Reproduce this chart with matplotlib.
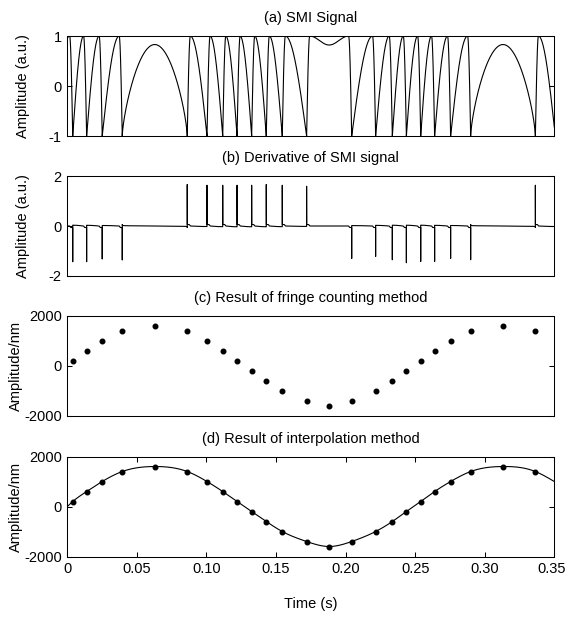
import numpy as np
import matplotlib
matplotlib.use("Agg")
import matplotlib.pyplot as plt
from matplotlib.transforms import ScaledTranslation

plt.rcParams["font.family"] = ["Liberation Sans", "DejaVu Sans"]
plt.rcParams["axes.unicode_minus"] = False

# ---------------------------
# Data
# ---------------------------
# instants of the fringe jumps (s) and the peak of the derivative at each one
fringe_times = [0.0039, 0.0139, 0.0251, 0.0395,
                0.0862, 0.1004, 0.1117, 0.1220, 0.1325, 0.1430, 0.1545, 0.1720,
                0.2044, 0.2216, 0.2336, 0.2437, 0.2540, 0.2640, 0.2755, 0.2899,
                0.3364]
spike_heights = [-1.43, -1.43, -1.32, -1.36,
                 1.66, 1.63, 1.63, 1.63, 1.63, 1.66, 1.63, 1.59,
                 -1.30, -1.22, -1.35, -1.47, -1.42, -1.42, -1.30, -1.35,
                 1.63]
# turning points of the target motion and the SMI level reached there
turn_times = [0.0630, 0.1880, 0.3130]
turn_levels = [0.83, 0.82, 0.83]
# fringes that start before / end after the plotted window
edge_times = [-0.0106, 0.3507]

# fringe counting result (nm), one value per jump / turning point
count_values = [200, 600, 1000, 1400, 1600, 1400, 1000, 600, 200, -200,
                -600, -1000, -1400, -1600, -1400, -1000, -600, -200, 200,
                600, 1000, 1400, 1600, 1400]
# interpolated curve at both ends of the window
curve_ends = [0, 1000]

xtick_vals = [0, 0.05, 0.10, 0.15, 0.20, 0.25, 0.30, 0.35]
xtick_labels = ["0", "0.05", "0.10", "0.15", "0.20", "0.25", "0.30", "0.35"]

T_END = 0.35
FAST = 0.0022  # duration of the steep edge of a fringe


def natural_spline(x, y, xs):
    x = np.asarray(x, float)
    y = np.asarray(y, float)
    n = len(x)
    h = np.diff(x)
    A = np.zeros((n, n))
    r = np.zeros(n)
    A[0, 0] = A[-1, -1] = 1
    for i in range(1, n - 1):
        A[i, i - 1] = h[i - 1]
        A[i, i] = 2 * (h[i - 1] + h[i])
        A[i, i + 1] = h[i]
        r[i] = 3 * ((y[i + 1] - y[i]) / h[i] - (y[i] - y[i - 1]) / h[i - 1])
    c = np.linalg.solve(A, r)
    b = (y[1:] - y[:-1]) / h - h * (2 * c[:-1] + c[1:]) / 3
    d = (c[1:] - c[:-1]) / (3 * h)
    k = np.clip(np.searchsorted(x, xs) - 1, 0, n - 2)
    dx = xs - x[k]
    return y[k] + b[k] * dx + c[k] * dx ** 2 + d[k] * dx ** 3


def up_fringe(tau, T):
    slow = T - FAST
    rise = -1 + 2 * np.sin(np.pi / 2 * np.clip(tau / slow, 0, 1))
    fall = -1 + 2 * np.cos(np.pi / 2 * np.clip((tau - slow) / FAST, 0, 1))
    return np.where(tau < slow, rise, fall)


# ---------------------------
# SMI signal built fringe by fringe
# ---------------------------
t = np.linspace(0, T_END, 35001)
edges = [edge_times[0]] + fringe_times + [edge_times[1]]
signs = [-1] + [np.sign(h) for h in spike_heights] + [1]
sig = np.zeros_like(t)
turn_i = 0
for k in range(len(edges) - 1):
    t0, t1 = edges[k], edges[k + 1]
    T = t1 - t0
    m = (t >= t0) & (t <= t1)
    tau = t[m] - t0
    s0, s1 = signs[k], signs[k + 1]
    if s0 < 0 and s1 < 0:
        s = up_fringe(tau, T)
    elif s0 > 0 and s1 > 0:
        s = up_fringe(T - tau, T)
    elif s0 < 0 and s1 > 0:
        p = turn_levels[turn_i]
        turn_i += 1
        s = -1 + (1 + p) * np.clip(np.sin(np.pi * tau / T), 0, 1) ** 0.7
    else:
        p = turn_levels[turn_i]
        turn_i += 1
        mid = 1 - (1 - p) * np.sin(np.pi * np.clip((tau - FAST) / (T - 2 * FAST), 0, 1)) ** 2
        s = np.where(tau < FAST, -1 + 2 * np.sin(np.pi / 2 * tau / FAST), mid)
        s = np.where(tau > T - FAST,
                     -1 + 2 * np.cos(np.pi / 2 * (tau - (T - FAST)) / FAST), s)
    sig[m] = s

# derivative: small slope between jumps plus a spike at every jump
deriv = np.clip(np.gradient(sig, t) * 8e-5, -0.06, 0.06)
for ft, h in zip(fringe_times, spike_heights):
    deriv[np.argmin(np.abs(t - ft))] = h

count_times = sorted(fringe_times + turn_times)
knots_t = [0] + count_times + [T_END]
knots_v = [curve_ends[0]] + count_values + [curve_ends[1]]
t_fine = np.linspace(0, T_END, 2000)
curve = natural_spline(knots_t, knots_v, t_fine)

# ---------------------------
# Figure
# ---------------------------
fig = plt.figure(figsize=(5.66, 6.18), dpi=100)
left, width, height = 0.1189, 0.8604, 0.1618
bottoms = [0.7799, 0.5534, 0.3269, 0.0995]
axes = [fig.add_axes([left, b, width, height]) for b in bottoms]

FS = 10.5
LW = 0.8
TPAD = 10

ax = axes[0]
ax.plot(t, sig, color="k", lw=LW)
ax.set_ylim(-1, 1)
ax.set_yticks([-1, 0, 1])
ax.set_title("(a) SMI Signal", fontsize=FS, pad=TPAD)
ax.set_ylabel("Amplitude (a.u.)", fontsize=FS)

ax = axes[1]
ax.plot(t, deriv, color="k", lw=LW)
ax.set_ylim(-2, 2)
ax.set_yticks([-2, 0, 2])
ax.set_title("(b) Derivative of SMI signal", fontsize=FS, pad=TPAD)
ax.set_ylabel("Amplitude (a.u.)", fontsize=FS)

ax = axes[2]
ax.plot(count_times, count_values, "o", color="k", ms=3.3)
ax.set_ylim(-2000, 2000)
ax.set_yticks([-2000, 0, 2000])
ax.set_title("(c) Result of fringe counting method", fontsize=FS, pad=TPAD)
ax.set_ylabel("Amplitude/nm", fontsize=FS)

ax = axes[3]
ax.plot(t_fine, curve, color="k", lw=LW)
ax.plot(count_times, count_values, "o", color="k", ms=3.3)
ax.set_ylim(-2000, 2000)
ax.set_yticks([-2000, 0, 2000])
ax.set_xticks(xtick_vals)
ax.set_xticklabels(xtick_labels)
ax.set_title("(d) Result of interpolation method", fontsize=FS, pad=TPAD)
ax.set_ylabel("Amplitude/nm", fontsize=FS)
ax.set_xlabel("Time (s)", fontsize=FS)
ax.xaxis.set_label_coords(0.5, -0.40)

for i, ax in enumerate(axes):
    ax.set_xlim(0, T_END)
    for sp in ax.spines.values():
        sp.set_linewidth(0.75)
    ax.tick_params(direction="in", length=3.6, width=0.75, labelsize=FS,
                   right=True, top=(i == 3), pad=4)
    if i < 3:
        ax.set_xticks([])
    ax.yaxis.set_label_coords(-0.077 if i < 2 else -0.092, 0.5)

# nudge the last time label so it stays inside the canvas
last = axes[3].get_xticklabels()[-1]
last.set_transform(last.get_transform() + ScaledTranslation(-3 / 100, 0, fig.dpi_scale_trans))

fig.savefig("out.png", dpi=100)
